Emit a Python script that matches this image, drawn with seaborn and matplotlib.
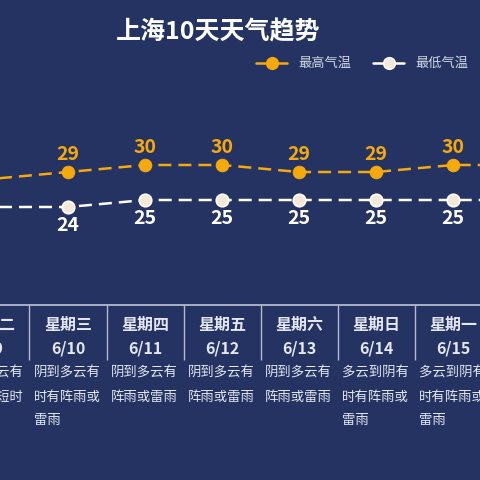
import matplotlib
matplotlib.use('Agg')
import matplotlib.pyplot as plt
import matplotlib.transforms as mtransforms
from matplotlib.lines import Line2D
import seaborn as sns
import pandas as pd

# ==== DATA ===================================================================
title = '上海10天天气趋势'
weekdays = ['星期二', '星期三', '星期四', '星期五', '星期六', '星期日', '星期一', '星期二']
dates = ['6/9', '6/10', '6/11', '6/12', '6/13', '6/14', '6/15', '6/16']
highs = [28, 29, 30, 30, 29, 29, 30, 30]
lows = [24, 24, 25, 25, 25, 25, 25, 25]
weather = ['阴到多云有\n阵雨或短时\n雷雨',
           '阴到多云有\n时有阵雨或\n雷雨',
           '阴到多云有\n阵雨或雷雨',
           '阴到多云有\n阵雨或雷雨',
           '阴到多云有\n阵雨或雷雨',
           '多云到阴有\n时有阵雨或\n雷雨',
           '多云到阴有\n时有阵雨或\n雷雨',
           '多云到阴有\n时有阵雨或\n雷雨']
legend_labels = ['最高气温', '最低气温']

# ==== SETTINGS ===============================================================
BG = '#243362'
HIGH_C = '#F5A90A'
LOW_C = '#F4E8DA'
TXT_C = '#E4E7F0'
sns.set_style('white')
plt.rcParams['font.family'] = ['Noto Sans CJK SC', 'DejaVu Sans']

W = H = 480
fig = plt.figure(figsize=(4.8, 4.8), dpi=100, facecolor=BG)
ax = fig.add_axes([0, 0, 1, 1], facecolor=BG)
ax.axis('off')

# x: day index, 77 px per day, 6/10 at x=68 px
px_per_day = 77.0
ax.set_xlim(1 - 68 / px_per_day, 1 + (W - 68) / px_per_day)
# y: temperature, 7 px per degree, 30 at y=165 px
ax.set_ylim(30 - (H - 165) / 7.0, 30 + 165 / 7.0)

blend = mtransforms.blended_transform_factory(ax.transData, ax.transAxes)


def fy(px):
    return 1 - px / H


df = pd.DataFrame({'idx': range(len(dates)), 'high': highs, 'low': lows})

# ==== LINES ==================================================================
dash = (0, (5.2, 2.8))
sns.lineplot(data=df, x='idx', y='high', ax=ax, color=HIGH_C, lw=1.8,
             marker='o', markersize=9, markerfacecolor=HIGH_C,
             markeredgecolor=HIGH_C, errorbar=None)
ax.lines[-1].set_linestyle(dash)
sns.lineplot(data=df, x='idx', y='low', ax=ax, color='white', lw=1.8,
             marker='o', markersize=9, markerfacecolor=LOW_C,
             markeredgecolor='white', markeredgewidth=1.2, errorbar=None)
ax.lines[-1].set_linestyle(dash)
ax.set_xlabel('')
ax.set_ylabel('')

for i, (h, l) in enumerate(zip(highs, lows)):
    ax.annotate(str(h), (i, h), xytext=(0, 12.5), textcoords='offset points',
                ha='center', va='center', color=HIGH_C, fontsize=14,
                fontweight='bold')
    ax.annotate(str(l), (i, l), xytext=(0, -13), textcoords='offset points',
                ha='center', va='center', color='white', fontsize=14,
                fontweight='bold')

# ==== TABLE ==================================================================
ax.plot(ax.get_xlim(), [fy(305), fy(305)], transform=blend,
        color='#B3BACE', lw=1.3, clip_on=False)
ax.vlines([i + 0.5 for i in range(len(dates) - 1)], fy(360), fy(305),
          transform=blend, color='#B3BACE', lw=1.0)
for i in range(len(dates)):
    ax.text(i, fy(325), weekdays[i], transform=blend, ha='center',
            va='center', color=TXT_C, fontsize=11.5, fontweight='bold')
    ax.text(i, fy(348), dates[i], transform=blend, ha='center',
            va='center', color=TXT_C, fontsize=11.5, fontweight='bold')
    for k, line in enumerate(weather[i].split('\n')):
        ax.text(i - 0.44, fy(373 + 23.5 * k), line, transform=blend,
                ha='left', va='center', color=TXT_C, fontsize=9.6,
                fontweight='medium')

# ==== TITLE / LEGEND =========================================================
fig.text(218 / W, fy(32), title, ha='center', va='center', color='white',
         fontsize=18, fontweight='bold')
for x0, col, fc, lab in [(256, HIGH_C, HIGH_C, legend_labels[0]),
                         (373, 'white', LOW_C, legend_labels[1])]:
    fig.add_artist(Line2D([x0 / W, (x0 + 31) / W], [fy(63), fy(63)],
                          transform=fig.transFigure, color=col, lw=1.8))
    fig.add_artist(Line2D([(x0 + 15.5) / W], [fy(63)], transform=fig.transFigure,
                          marker='o', markersize=8.5, markerfacecolor=fc,
                          markeredgecolor=col, color=col))
    fig.text((x0 + 42) / W, fy(63), lab, ha='left', va='center',
             color='#D3D7E2', fontsize=9.5)

plt.savefig('out.png', dpi=100, facecolor=BG)
